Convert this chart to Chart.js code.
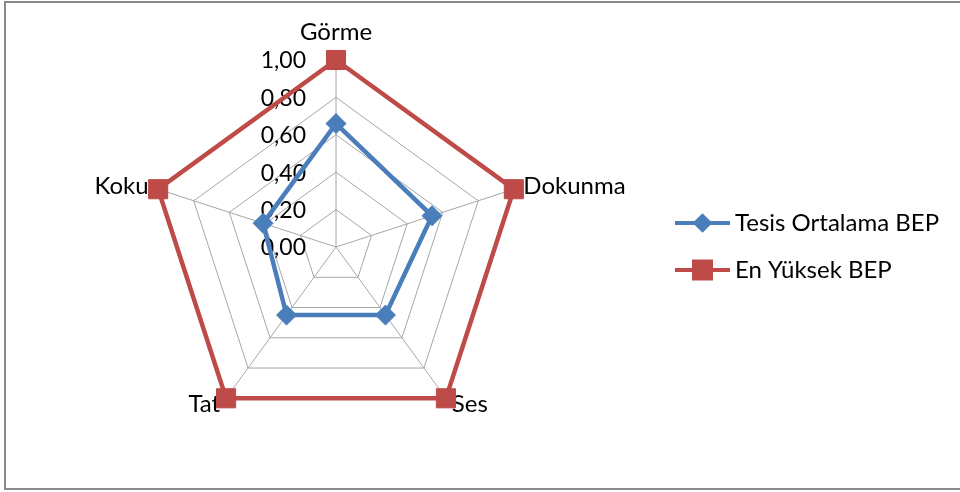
<!DOCTYPE html>
<html>
<head>
<meta charset="utf-8">
<script src="https://cdn.jsdelivr.net/npm/chart.js@4/dist/chart.umd.min.js"></script>
<style>
  html, body { margin: 0; padding: 0; background: #fff; }
  #wrap { position: relative; width: 960px; height: 492px; overflow: hidden; }
  #frame { position: absolute; left: 4px; top: 1px; width: 1000px; height: 489px;
           border: 2px solid #8a8a8a; box-sizing: border-box; }
  canvas { position: absolute; left: 0; top: 0; }
</style>
</head>
<body>
<div id="wrap">
  <div id="frame"></div>
  <canvas id="c" width="960" height="492"></canvas>
</div>
<script>
// Sense categories around the radar
const categories = ['Görme', 'Dokunma', 'Ses', 'Tat', 'Koku'];
// Series values
const tesisOrtalama = [0.66, 0.54, 0.45, 0.45, 0.41];
const enYuksek = [1.00, 1.00, 1.00, 1.00, 1.00];
const seriesNames = ['Tesis Ortalama BEP', 'En Yüksek BEP'];
// Radial tick labels (0 to 1 in 0.2 steps)
const tickValues = [0, 0.2, 0.4, 0.6, 0.8, 1.0];
const tickLabels = ['0,00', '0,20', '0,40', '0,60', '0,80', '1,00'];

const BLUE = '#4a7ebb';
const RED = '#be4b48';
const FONT = 'Lato, "Open Sans", sans-serif';

// Text under the series: radial tick labels and category labels
const labelsPlugin = {
  id: 'radarText',
  beforeDatasetsDraw(chart) {
    const s = chart.scales.r;
    const ctx = chart.ctx;
    ctx.save();
    ctx.fillStyle = '#000';
    ctx.font = '23px ' + FONT;
    ctx.textAlign = 'right';
    ctx.textBaseline = 'middle';
    tickValues.forEach((v, i) => {
      const d = s.getDistanceFromCenterForValue(v);
      ctx.fillText(tickLabels[i], s.xCenter - 30, s.yCenter - d + 1);
    });
    ctx.font = '24px ' + FONT;
    categories.forEach((name, i) => {
      const a = s.getPointPosition(i, 0).angle;
      const c = Math.cos(a);
      if (Math.abs(c) < 0.01) {
        const p = s.getPointPosition(i, s.drawingArea + 28);
        ctx.textAlign = 'center';
        ctx.textBaseline = 'middle';
        ctx.fillText(name, p.x, p.y);
      } else {
        const p = s.getPointPosition(i, s.drawingArea + 8);
        ctx.textAlign = c > 0 ? 'left' : 'right';
        ctx.textBaseline = 'middle';
        ctx.fillText(name, p.x + 2 * c, p.y);
      }
    });
    ctx.restore();
  }
};

// Legend on the right with line + marker swatches
const legendPlugin = {
  id: 'sideLegend',
  afterDraw(chart) {
    const ctx = chart.ctx;
    const rows = [223, 270];
    const markerSize = [7, 12];
    ctx.save();
    chart.data.datasets.forEach((ds, i) => {
      const y = rows[i];
      ctx.strokeStyle = ds.borderColor;
      ctx.lineWidth = 4;
      ctx.beginPath();
      ctx.moveTo(675, y);
      ctx.lineTo(730, y);
      ctx.stroke();
      Chart.helpers.drawPoint(ctx, {
        pointStyle: ds.pointStyle,
        radius: markerSize[i],
        borderWidth: 1,
        rotation: 0
      }, 702.5, y);
      ctx.fillStyle = ds.pointBackgroundColor;
      ctx.strokeStyle = ds.pointBorderColor;
      ctx.lineWidth = 1;
      ctx.fill();
      ctx.stroke();
      ctx.fillStyle = '#000';
      ctx.font = '24px ' + FONT;
      ctx.textAlign = 'left';
      ctx.textBaseline = 'middle';
      ctx.fillText(ds.label, 735, y);
    });
    ctx.restore();
  }
};

new Chart(document.getElementById('c'), {
  type: 'radar',
  data: {
    labels: categories,
    datasets: [
      {
        label: seriesNames[0],
        data: tesisOrtalama,
        borderColor: BLUE,
        backgroundColor: 'transparent',
        borderWidth: 4.5,
        fill: false,
        pointStyle: 'rectRot',
        pointRadius: 10,
        pointHoverRadius: 10,
        pointBackgroundColor: BLUE,
        pointBorderColor: BLUE,
        pointBorderWidth: 1
      },
      {
        label: seriesNames[1],
        data: enYuksek,
        borderColor: RED,
        backgroundColor: 'transparent',
        borderWidth: 4.5,
        fill: false,
        pointStyle: 'rect',
        pointRadius: 13.5,
        pointHoverRadius: 13.5,
        pointBackgroundColor: RED,
        pointBorderColor: RED,
        pointBorderWidth: 1
      }
    ]
  },
  options: {
    responsive: false,
    animation: false,
    events: [],
    layout: { padding: { left: 149, right: 437, top: 60, bottom: 58 } },
    plugins: { legend: { display: false }, tooltip: { enabled: false } },
    elements: { line: { tension: 0 } },
    scales: {
      r: {
        min: 0,
        max: 1,
        ticks: { display: false, stepSize: 0.2 },
        pointLabels: { display: false },
        grid: { color: '#a6a6a6', lineWidth: 1 },
        angleLines: { color: '#a6a6a6', lineWidth: 1 }
      }
    }
  },
  plugins: [labelsPlugin, legendPlugin]
});
</script>
</body>
</html>
